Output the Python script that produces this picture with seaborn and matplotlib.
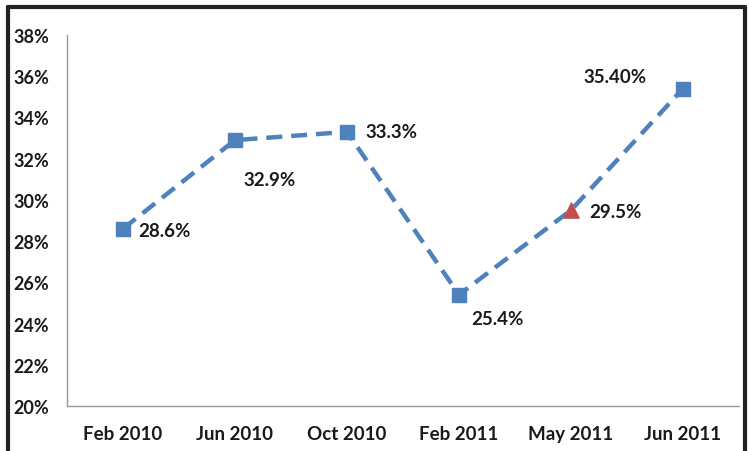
import numpy as np
import pandas as pd
import matplotlib.pyplot as plt
import seaborn as sns
from matplotlib.lines import Line2D

months = ["Feb 2010", "Jun 2010", "Oct 2010", "Feb 2011", "May 2011", "Jun 2011"]
rates = [28.6, 32.9, 33.3, 25.4, 29.5, 35.4]
labels = ["28.6%", "32.9%", "33.3%", "25.4%", "29.5%", "35.40%"]
# where each value label sits relative to its point (points offset)
label_offsets = [(11, -1), (6, -28), (13, 0), (9, -17), (13, -1), (-72, 9)]

sns.set_style("white")
plt.rcParams["font.family"] = ["Lato", "DejaVu Sans"]

df = pd.DataFrame({"pos": np.arange(len(months)), "rate": rates})

fig = plt.figure(figsize=(7.49, 4.52), dpi=100)
ax = fig.add_axes([67 / 749, 1 - 407 / 452, 672 / 749, 371 / 452])

blue = "#4f81bd"
red = "#c0504d"
sns.lineplot(data=df, x="pos", y="rate", ax=ax, color=blue, linewidth=3.2,
             dashes=False, legend=False)
ax.lines[0].set_dashes([3.6, 2.0])

sq = df.iloc[[0, 1, 2, 3, 5]]
ax.scatter(sq["pos"], sq["rate"], marker="s", s=110, color=blue, zorder=3)
tri = df.iloc[[4]]
ax.scatter(tri["pos"], tri["rate"], marker="^", s=120, color=red, zorder=3)

for x, y, t, off in zip(df["pos"], rates, labels, label_offsets):
    ax.annotate(t, (x, y), xytext=off, textcoords="offset points",
                fontsize=13.5, fontweight="bold", color="#1a1a1a", va="center")

ax.set_xlim(-0.5, 5.5)
ax.set_ylim(20, 38)
ax.set_yticks(np.arange(20, 39, 2))
ax.set_yticklabels([f"{v}%" for v in range(20, 39, 2)])
ax.set_xticks(df["pos"])
ax.set_xticklabels(months)
ax.set_xticks(np.arange(-0.5, 6, 1), minor=True)
ax.tick_params(axis="x", which="major", length=0, pad=14, labelsize=13.5)
ax.tick_params(axis="x", which="minor", length=6, color="#999999", width=1, direction="out")
ax.tick_params(axis="y", length=5, color="#999999", width=1, direction="out", labelsize=13, pad=8)
for lab in ax.get_xticklabels() + ax.get_yticklabels():
    lab.set_fontweight("bold")
    lab.set_color("#1a1a1a")
ax.set_xlabel("")
ax.set_ylabel("")
for s in ["top", "right"]:
    ax.spines[s].set_visible(False)
for s in ["left", "bottom"]:
    ax.spines[s].set_color("#999999")
    ax.spines[s].set_linewidth(1)

# outer frame of the original slide
fig.add_artist(Line2D([8 / 749, 8 / 749], [0, 1 - 8 / 452], color="#222222", lw=3, transform=fig.transFigure))
fig.add_artist(Line2D([8 / 749, 745 / 749], [1 - 8 / 452, 1 - 8 / 452], color="#222222", lw=3, transform=fig.transFigure))
fig.add_artist(Line2D([745 / 749, 745 / 749], [0, 1 - 8 / 452], color="#222222", lw=3, transform=fig.transFigure))

fig.savefig("out.png", dpi=100)
plt.close(fig)
